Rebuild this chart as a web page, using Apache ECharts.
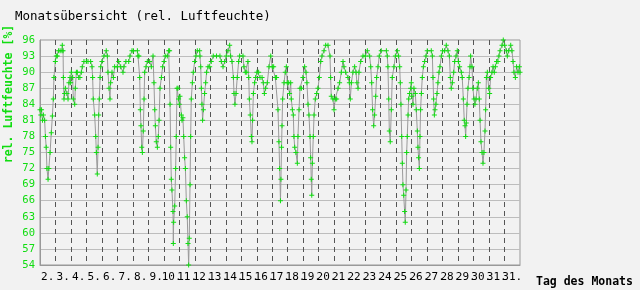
<!DOCTYPE html>
<html>
<head>
<meta charset="utf-8">
<script src="https://cdn.jsdelivr.net/npm/echarts@6/dist/echarts.min.js"></script>
<style>
html,body{margin:0;padding:0;background:#f2f2f2;}
#c{width:640px;height:290px;}
</style>
</head>
<body>
<div id="c"></div>
<script>
// Day labels along the x axis (as printed in the original)
const dayLabels = ["2.","3.","4.","5.","6.","7.","8.","9.","10.","11.","12.","13.","14.","15.","16.","17.","18.","19.","20.","21.","22.","23.","24.","25.","26.","27.","28.","29.","30.","31.","31."];

// Time position in days since start of month (0..31)
const times = [
0.00,0.05,0.10,0.16,0.22,0.30,0.35,0.40,0.45,0.52,0.57,0.65,0.73,0.80,0.86,0.90,0.99,
1.05,1.12,1.20,1.30,1.42,1.44,1.49,1.51,1.55,1.59,1.64,1.74,1.81,1.87,1.94,
1.98,2.02,2.11,2.15,2.24,2.28,2.35,2.41,2.50,2.58,2.67,2.73,2.84,2.99,
3.10,3.27,3.36,3.40,3.44,3.53,3.60,3.64,3.70,3.75,3.79,3.83,3.88,3.92,
4.00,4.13,4.28,4.35,4.39,4.46,4.52,4.56,4.65,4.74,4.82,4.99,
5.08,5.21,5.36,5.42,5.55,5.73,5.81,5.94,
6.03,6.29,6.33,6.39,6.44,6.48,6.52,6.57,6.61,6.67,6.72,6.76,6.85,6.93,
7.08,7.19,7.30,7.36,7.41,7.45,7.51,7.58,7.64,7.69,7.75,7.84,7.92,
8.01,8.09,8.22,8.31,8.37,8.40,8.44,8.48,8.52,8.59,8.61,8.63,8.70,8.76,8.80,8.85,8.91,8.95,
9.00,9.04,9.13,9.17,9.23,9.28,9.34,9.39,9.45,9.51,9.56,9.60,9.64,9.69,9.73,9.77,9.84,9.90,9.99,
10.07,10.16,10.31,10.33,10.38,10.42,10.46,10.50,10.55,10.63,10.70,10.76,10.85,10.96,
11.06,11.19,11.40,11.62,11.71,11.82,11.93,
12.03,12.14,12.25,12.31,12.40,12.49,12.53,12.59,12.66,12.74,12.83,12.89,
13.11,13.17,13.26,13.35,13.43,13.48,13.52,13.58,13.65,13.69,13.73,13.78,13.86,13.93,
14.01,14.12,14.21,14.34,14.42,14.49,14.57,14.68,14.79,14.90,
15.00,15.09,15.20,15.28,15.37,15.43,15.48,15.53,15.56,15.60,15.63,15.67,15.76,15.84,15.91,15.97,
16.06,16.12,16.19,16.23,16.30,16.36,16.40,16.45,16.53,16.62,16.66,16.73,16.79,16.88,16.98,
17.09,17.18,17.24,17.31,17.37,17.44,17.48,17.52,17.55,17.59,17.65,17.70,17.78,17.87,17.95,
18.04,18.13,18.21,18.34,18.45,18.60,18.73,18.77,18.81,18.92,18.99,
19.07,19.16,19.25,19.35,19.46,19.57,19.63,19.74,19.89,19.98,
20.04,20.11,20.21,20.32,20.41,20.47,20.54,20.60,20.71,20.86,
21.01,21.14,21.29,21.36,21.42,21.48,21.55,21.61,21.68,21.74,21.83,21.91,
22.04,22.37,22.43,22.47,22.52,22.56,22.62,22.69,22.75,22.86,22.95,
23.08,23.16,23.23,23.27,23.31,23.36,23.40,23.44,23.49,23.55,23.59,23.64,23.68,23.72,23.77,23.81,23.87,23.94,
23.98,24.02,24.09,24.15,24.24,24.30,24.37,24.41,24.45,24.50,24.54,24.58,24.63,24.69,24.76,24.84,24.93,
25.01,25.27,25.34,25.38,25.42,25.47,25.51,25.57,25.64,25.70,25.77,25.83,25.92,
26.00,26.13,26.24,26.35,26.44,26.50,26.56,26.63,26.72,26.78,26.87,26.95,
27.02,27.10,27.21,27.27,27.34,27.40,27.45,27.49,27.53,27.58,27.64,27.71,27.77,27.81,27.90,27.96,
28.03,28.09,28.16,28.24,28.31,28.37,28.42,28.48,28.55,28.61,28.67,28.74,28.78,28.83,28.89,28.98,
29.04,29.10,29.19,29.26,29.34,29.41,29.49,29.58,29.64,29.71,29.84,29.92,
30.01,30.12,30.18,30.27,30.40,30.48,30.55,30.61,30.70,30.78,30.87,30.96,31.00
];

// Relative humidity [%]
const humidity = [
83,82,83,81,82,81,78,76,72,70,72,75,78.7,81.8,85,89,92,
93,93,94,94,94,95,94,89,85,86,87,86,85,88,89,
88,90,89,85,84,87,90,90,89,89,90,91,92,92,
92,92,91,89,85,82,78,75,71,76,82,85,89,91,
92,93,94,93,90,87,85,88,90,89,91,91,
92,91,90,91,92,92,93,94,
94,94,93,93,89,83,80,76,75,79,85,90,91,92,
92,91,93,88,83,80,77,76,78,81,87,89,91,
92,93,93,94,94,84,76,70,68,64,58,62,65,72,78,87,87,85,
84,85.5,82,81,81.5,78,74,72,66,63,58,54,59,69,78,85,88,90,92,
93,94,94,93,91,87,84,81,83,86,88,90,91,91,
92,93,93,93,92,91,92,
93,94,95,93,92,89,86,84,86,89,92,93,
93,91,90,90,92,89,85,82,78,77,81,86,88,89,
90,90,89,89,88,86,87,88,91,93,
91,91,89,89,83,77,72,66,70,76,80,85,88,90,91,88,
88,86,88,85,83,82,78,76,75,73,78,83,87,87,89,
91,90,88,84,82,78,74,70,67,73,78,82,85,86,87,
89,92,93,94,95,95,93,89,85.5,85,83,
85,85,87,88,90,92,91,90,89,88,
85,88,90,91,90,88,87,90,92,93,
93,94,93,91,88,83,80,82,85.5,89,91,93,
94,94,93,91,85,79,77,83,89,91,93,
94,93,91,88,84,78,73,69,67,64,62,68,75,78,82,85,86,87,
88,85.5,84,87,86,83,79,76,74,72,78,83,86,89,91,92,93,
94,94,93,89,85,82,83,84,86,88,90,91,93,
94,94,95,94,93,89,87,88,90,92,93,94,
92,91,90,89,85,81,80,78,80.5,84,87,89,91,93,91,87,
85,84,85,87,88,85,81,77,75,73,75,79,83,89,90,87,
86,89,90,91,90,91,92,92,93,94,95,96,
95,94,93,94,95,94,92,90,89,91,90,91,90
];

const GREEN = '#11dd11';
const MONO = '"DejaVu Sans Mono", "Liberation Mono", monospace';

const seriesData = times.map((t, i) => [t, humidity[i]]);

const chart = echarts.init(document.getElementById('c'), null, {renderer: 'canvas'});
chart.setOption({
  animation: false,
  backgroundColor: '#f2f2f2',
  title: {
    text: 'Monatsübersicht (rel. Luftfeuchte)',
    left: 15, top: 10, padding: 0,
    textStyle: {fontFamily: MONO, fontSize: 12.5, fontWeight: 'normal', color: '#000'}
  },
  grid: {left: 40, right: 120, top: 40, bottom: 25, show: true, borderColor: '#999', borderWidth: 1, backgroundColor: 'transparent'},
  xAxis: [
    {
      type: 'value', min: 0, max: 31, interval: 1,
      axisLabel: {show: false}, axisTick: {show: false},
      axisLine: {show: true, lineStyle: {color: '#999'}},
      splitLine: {show: true, showMinLine: false, showMaxLine: false, lineStyle: {color: '#555', type: [5, 4], width: 1}}
    },
    {
      type: 'category', data: dayLabels, position: 'bottom', boundaryGap: true,
      axisLine: {show: false}, axisTick: {show: false}, splitLine: {show: false},
      axisLabel: {interval: 0, margin: 7, color: '#000', fontFamily: MONO, fontSize: 11}
    }
  ],
  yAxis: {
    type: 'value', min: 54, max: 96, interval: 3,
    axisLine: {show: true, lineStyle: {color: '#999'}}, axisTick: {show: false},
    axisLabel: {color: GREEN, fontFamily: MONO, fontSize: 10.5, margin: 5},
    splitLine: {show: true, showMinLine: false, showMaxLine: false, lineStyle: {color: '#bdbdbd', width: 1}}
  },
  series: [{
    type: 'line', xAxisIndex: 0, data: seriesData,
    showSymbol: true, showAllSymbol: true,
    symbol: 'path://M2,0H3V2H5V3H3V5H2V3H0V2H2Z', symbolSize: 5,
    itemStyle: {color: GREEN},
    lineStyle: {color: '#999', width: 1},
    emphasis: {disabled: true}
  }],
  graphic: [
    {type: 'text', x: 9, y: 94, rotation: Math.PI / 2,
     style: {text: 'rel. Luftfeuchte [%]', fill: GREEN, font: 'bold 11.5px ' + MONO, align: 'center', verticalAlign: 'middle'}},
    {type: 'text', x: 536, y: 282,
     style: {text: 'Tag des Monats', fill: '#000', font: 'bold 11.5px ' + MONO, align: 'left', verticalAlign: 'middle'}}
  ]
});
</script>
</body>
</html>
